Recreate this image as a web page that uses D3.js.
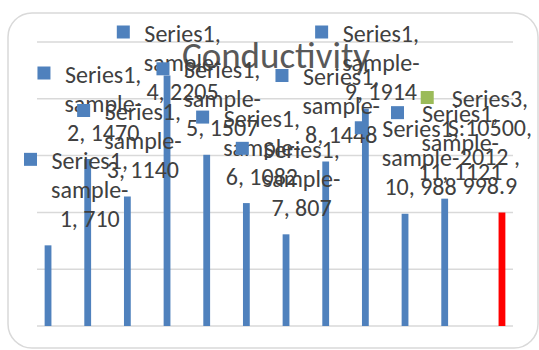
<!DOCTYPE html>
<html>
<head>
<meta charset="utf-8">
<script src="https://cdn.jsdelivr.net/npm/d3@7"></script>
<style>
  html, body { margin: 0; padding: 0; background: #fff; }
  svg { display: block; }
  text { font-family: Carlito, Lato, "Noto Sans", sans-serif; }
</style>
</head>
<body>
<svg id="chart" width="539" height="350"></svg>
<script>
// Conductivity per sample
const categories = ["sample-1", "sample-2", "sample-3", "sample-4", "sample-5", "sample-6",
                    "sample-7", "sample-8", "sample-9", "sample-10", "sample-11", "S:10500, 2012 "];
const seriesNames = ["Series1", "Series2", "Series3"];
const series1Values = [710, 1470, 1140, 2205, 1507, 1082, 807, 1448, 1914, 988, 1121, null];
const series3Values = [null, null, null, null, null, null, null, null, null, null, null, 998.9];
const yTicks = [0, 500, 1000, 1500, 2000, 2500];
const chartTitle = "Conductivity";

const seriesColors = { Series1: "#4F81BD", Series2: "#C0504D", Series3: "#9BBB59" };
const pointColors = { "Series3|S:10500, 2012 ": "#FF0000" };

const svg = d3.select("#chart");
const plot = { left: 37, right: 513, top: 42, bottom: 326 };

const x = d3.scaleBand().domain(categories).range([plot.left, plot.right]);
const xs = d3.scaleBand().domain(seriesNames).range([-13.2, 13.2]);
const y = d3.scaleLinear().domain([0, 2500]).range([plot.bottom, plot.top]);

// chart frame
svg.append("rect")
  .attr("x", 8).attr("y", 13).attr("width", 530).attr("height", 335)
  .attr("rx", 24).attr("ry", 24)
  .attr("fill", "#fff").attr("stroke", "#d9d9d9").attr("stroke-width", 1.5);

// horizontal gridlines
svg.append("g").selectAll("line").data(yTicks).join("line")
  .attr("x1", plot.left).attr("x2", plot.right)
  .attr("y1", d => y(d)).attr("y2", d => y(d))
  .attr("stroke", "#d9d9d9").attr("stroke-width", 1.5);

// title
svg.append("text")
  .attr("x", 276).attr("y", 68)
  .attr("text-anchor", "middle")
  .attr("font-size", 37)
  .attr("fill", "#595959")
  .text(chartTitle);

// flatten points
const points = [];
categories.forEach((c, i) => {
  if (series1Values[i] != null) points.push({ s: "Series1", c, v: series1Values[i] });
  if (series3Values[i] != null) points.push({ s: "Series3", c, v: series3Values[i] });
});

const barW = 6.8;
const cxOf = p => x(p.c) + x.bandwidth() / 2 + xs(p.s) + xs.bandwidth() / 2;

svg.append("g").selectAll("rect").data(points).join("rect")
  .attr("x", p => cxOf(p) - barW / 2)
  .attr("y", p => y(p.v))
  .attr("width", barW)
  .attr("height", p => y(0) - y(p.v))
  .attr("fill", p => pointColors[p.s + "|" + p.c] || seriesColors[p.s]);

// data labels: series, category, value, wrapped
function labelLines(p) {
  if (p.c.startsWith("sample-")) {
    const parts = p.c.split("-");
    return [p.s + ",", parts[0] + "-", parts[1] + ", " + p.v];
  }
  return [p.s + ","].concat(p.c.split(", ").map(t => t + ","), [String(p.v)]);
}

const fontSize = 24, lineH = 29, markerSize = 13, markerSpace = 27;
const labelLayer = svg.append("g");

points.forEach(p => {
  const lines = labelLines(p);
  const g = labelLayer.append("g");
  const texts = lines.map(t => g.append("text")
    .attr("font-size", fontSize).attr("fill", "#404040")
    .attr("text-anchor", "middle").attr("dominant-baseline", "central")
    .text(t));
  const textW = d3.max(texts, t => t.node().getComputedTextLength());
  const blockW = markerSpace + textW;
  let left = cxOf(p) - blockW / 2 + 2;
  left = Math.max(24, left);
  if (left + blockW > 532) left = 532 - blockW;
  const n = lines.length;
  let firstY = y(p.v) - 27 - (n - 1) * lineH;
  firstY = Math.max(33, firstY);
  const tcx = left + markerSpace + textW / 2;
  texts.forEach((t, k) => t.attr("x", tcx).attr("y", firstY + k * lineH));
  g.insert("rect", "text")
    .attr("x", left).attr("y", firstY - markerSize / 2 - 1)
    .attr("width", markerSize).attr("height", markerSize)
    .attr("fill", seriesColors[p.s]);
});
</script>
</body>
</html>
